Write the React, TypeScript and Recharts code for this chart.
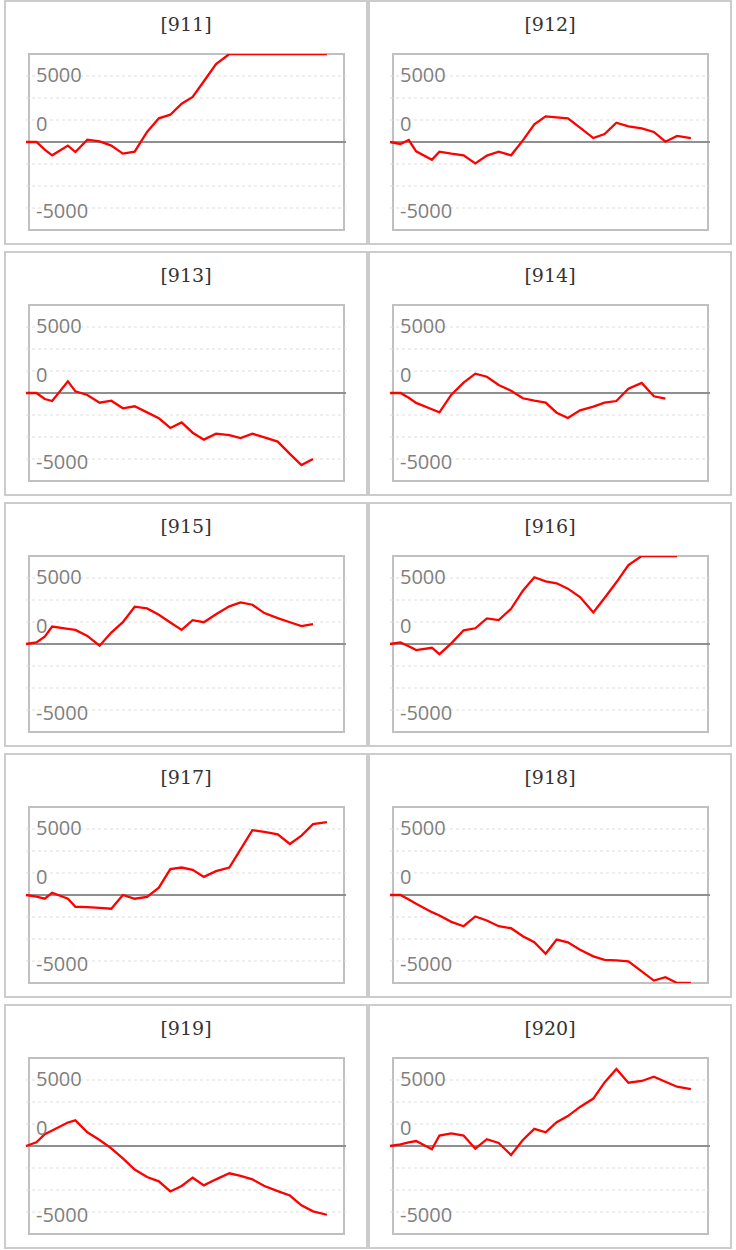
import { CartesianGrid, Line, LineChart, ReferenceLine, XAxis, YAxis } from "recharts";

// shared sampling positions (same for every panel)
const steps = [
  0, 0.9, 1.62, 2.26, 3.62, 4.27, 5.3, 6.36, 7.37, 8.37, 9.39, 10.46, 11.48, 12.47,
  13.45, 14.4, 15.37, 16.42, 17.57, 18.54, 19.56, 20.6, 21.75, 22.8, 23.8, 24.8, 26.0,
];

const titles = ["[911]", "[912]", "[913]", "[914]", "[915]", "[916]", "[917]", "[918]", "[919]", "[920]"];

const s911 = [0, 0, -690, -1210, -330, -910, 210, 60, -330, -1060, -880, 910, 2150, 2480, 3480, 4090, 5520, 7090, 8200, 9000, 9600, 10300, 10800, 11400, 11900, 12500, 13000];
const s912 = [0, -180, 180, -850, -1610, -880, -1060, -1210, -1940, -1240, -880, -1210, 150, 1610, 2330, 2240, 2150, 1300, 360, 730, 1750, 1420, 1240, 910, 30, 550, 360];
const s913 = [0, 0, -550, -730, 1060, 150, -180, -880, -700, -1390, -1210, -1760, -2300, -3180, -2670, -3610, -4240, -3700, -3820, -4090, -3700, -4030, -4420, -5530, -6550, -6000];
const s914 = [0, 0, -430, -900, -1480, -1760, -150, 940, 1760, 1480, 730, 210, -480, -700, -880, -1790, -2270, -1580, -1240, -880, -730, 390, 910, -300, -520];
const s915 = [0, 150, 670, 1590, 1370, 1280, 730, -150, 1040, 1980, 3390, 3230, 2650, 1950, 1280, 2170, 1980, 2710, 3420, 3780, 3570, 2810, 2350, 1980, 1620, 1800];
const s916 = [0, 150, -200, -550, -340, -920, 60, 1250, 1430, 2320, 2170, 3200, 4850, 6070, 5700, 5520, 5030, 4270, 2870, 4180, 5610, 7170, 8100, 8700, 9200, 9500];
const s917 = [0, -150, -340, 210, -340, -1070, -1110, -1170, -1250, 0, -340, -180, 670, 2350, 2500, 2290, 1650, 2170, 2500, 4150, 5890, 5730, 5520, 4640, 5400, 6440, 6620];
const s918 = [0, 0, -400, -790, -1560, -1860, -2440, -2840, -1950, -2320, -2840, -3020, -3750, -4300, -5340, -4060, -4300, -4970, -5580, -5890, -5950, -6040, -6950, -7780, -7470, -8050, -8500];
const s919 = [0, 340, 1070, 1410, 2140, 2330, 1250, 550, -210, -1130, -2140, -2820, -3210, -4130, -3640, -2880, -3580, -3030, -2480, -2720, -3030, -3640, -4100, -4500, -5390, -5940, -6250];
const s920 = [0, 150, 320, 450, -300, 950, 1150, 950, -250, 620, 280, -820, 550, 1560, 1250, 2170, 2720, 3550, 4310, 5780, 7010, 5750, 5910, 6300, 5840, 5390, 5170];

const series = [s911, s912, s913, s914, s915, s916, s917, s918, s919, s920];

const yRange = [-8000, 8000];
// axis labels sit where the original drew them (not on the grid lines)
const yTickValues = [6150, 1650, -6250];
const yTickLabels = ["5000", "0", "-5000"];
const gridValues = [-6000, -4000, -2000, 2000, 4000, 6000];

const renderTick = (props: any) => {
  const i = yTickValues.indexOf(props.payload.value);
  return (
    <text
      x={30}
      y={props.y}
      dy="0.36em"
      fill="#7f7f7f"
      fontSize={20}
      fontFamily="'Open Sans', sans-serif"
      textAnchor="start"
    >
      {yTickLabels[i]}
    </text>
  );
};

const Panel = ({ title, values }: { title: string; values: number[] }) => {
  // the original pins out-of-range values to the frame edge
  const data = values.map((v, i) => ({
    t: steps[i],
    v: Math.min(yRange[1], Math.max(yRange[0], v)),
  }));
  return (
    <div
      style={{
        position: "relative",
        boxSizing: "border-box",
        width: 364,
        height: 245,
        border: "2px solid #cccccc",
        background: "#fff",
      }}
    >
      <div
        style={{
          position: "absolute",
          left: 0,
          top: 13,
          width: 360,
          textAlign: "center",
          fontFamily: "'DejaVu Serif', serif",
          fontSize: 19,
          lineHeight: "19px",
          color: "#333",
        }}
      >
        {title}
      </div>
      <div
        style={{
          position: "absolute",
          left: 22,
          top: 51,
          width: 317,
          height: 178,
          boxSizing: "border-box",
          border: "2px solid #c0c0c0",
        }}
      />
      <div style={{ position: "absolute", left: 0, top: 0 }}>
        <LineChart
          width={360}
          height={241}
          data={data}
          margin={{ top: 52, right: 20, bottom: 13, left: 20 }}
        >
          <CartesianGrid
            vertical={false}
            horizontalValues={gridValues}
            stroke="#dddddd"
            strokeDasharray="3 3"
          />
          <XAxis type="number" dataKey="t" domain={[0, 27.65]} hide />
          <YAxis
            type="number"
            domain={yRange}
            allowDataOverflow
            mirror
            ticks={yTickValues}
            interval={0}
            tick={renderTick}
            axisLine={false}
            tickLine={false}
          />
          <ReferenceLine y={0} stroke="#8f8f8f" strokeWidth={2} />
          <Line
            type="linear"
            dataKey="v"
            stroke="#ff0000"
            strokeWidth={2.3}
            dot={false}
            activeDot={false}
            isAnimationActive={false}
          />
        </LineChart>
      </div>
    </div>
  );
};

export default function App() {
  return (
    <div style={{ width: 736, height: 1250 }}>
      <style>{"body{margin:0;background:#fff}"}</style>
      <div
        style={{
          display: "grid",
          gridTemplateColumns: "364px 364px",
          rowGap: 6,
          paddingLeft: 4,
        }}
      >
        {titles.map((title, i) => (
          <Panel key={title} title={title} values={series[i]} />
        ))}
      </div>
    </div>
  );
}
